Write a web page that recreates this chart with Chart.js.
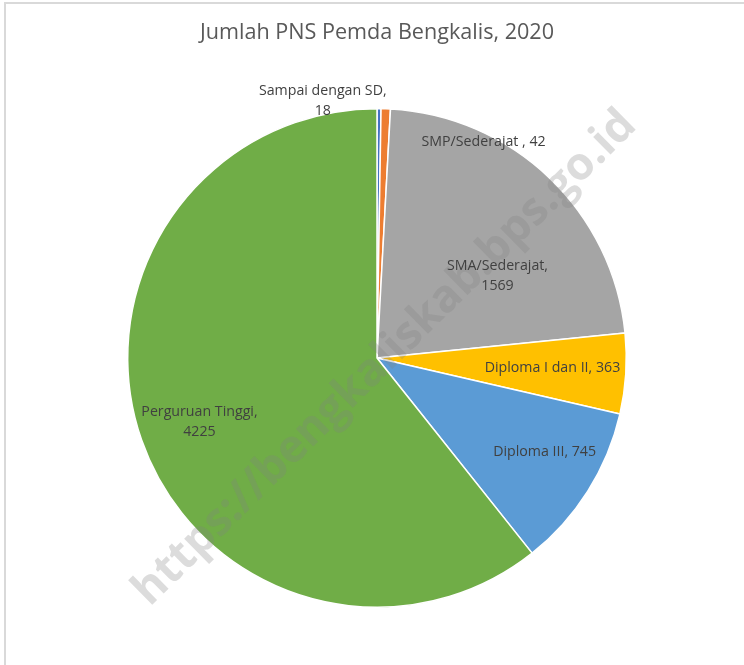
<!DOCTYPE html>
<html><head><meta charset="utf-8">
<script src="https://cdn.jsdelivr.net/npm/chart.js@4/dist/chart.umd.min.js"></script>
<style>html,body{margin:0;padding:0;background:#fff;overflow:hidden}</style>
</head><body>
<canvas id="c" width="744" height="665"></canvas>
<script>
const categories = ["Sampai dengan SD", "SMP/Sederajat ", "SMA/Sederajat", "Diploma I dan II", "Diploma III", "Perguruan Tinggi"];
const values = [18, 42, 1569, 363, 745, 4225];
const twoLineLabel = [true, false, true, false, false, true];
const colors = ["#4472C4", "#ED7D31", "#A5A5A5", "#FFC000", "#5B9BD5", "#70AD47"];
const chartTitle = "Jumlah PNS Pemda Bengkalis, 2020";
const watermark = "https://bengkaliskab.bps.go.id";
// label placement relative to each slice: [angle offset from slice middle (deg), radius fraction]
const labelPlacement = [[-12.4, 1.052], [24.2, 0.968], [12.2, 0.584], [-0.35, 0.705], [-3.1, 0.77], [-0.6, 0.757]];

const FONT = "'Open Sans', Lato, sans-serif";
const LABEL_SIZE = 14.2;
const TITLE_SIZE = 21.6;

const frameAndWatermark = {
  id: 'frameAndWatermark',
  beforeDraw(chart) {
    const ctx = chart.ctx;
    ctx.save();
    ctx.fillStyle = '#fff';
    ctx.fillRect(0, 0, chart.width, chart.height);
    ctx.strokeStyle = '#d9d9d9';
    ctx.lineWidth = 2;
    ctx.strokeRect(5, 3, 900, 900);
    ctx.restore();
  },
  afterDatasetsDraw(chart) {
    const ctx = chart.ctx;
    // watermark
    ctx.save();
    ctx.translate(385, 358);
    ctx.rotate(-44.5 * Math.PI / 180);
    let size = 40;
    ctx.font = "bold " + size + "px 'Open Sans', sans-serif";
    const w = ctx.measureText(watermark).width;
    size = size * 685 / w;
    ctx.font = "bold " + size + "px 'Open Sans', sans-serif";
    ctx.fillStyle = 'rgba(128,128,128,0.28)';
    ctx.textAlign = 'center';
    ctx.textBaseline = 'middle';
    ctx.fillText(watermark, 0, 0);
    ctx.restore();

    const meta = chart.getDatasetMeta(0);
    ctx.save();
    ctx.font = LABEL_SIZE + "px " + FONT;
    ctx.fillStyle = '#404040';
    ctx.textAlign = 'center';
    ctx.textBaseline = 'middle';
    meta.data.forEach((arc, i) => {
      const p = arc.getProps(['x', 'y', 'startAngle', 'endAngle', 'outerRadius'], true);
      const mid = (p.startAngle + p.endAngle) / 2;
      const a = mid + labelPlacement[i][0] * Math.PI / 180;
      const r = labelPlacement[i][1] * p.outerRadius;
      const px = p.x + Math.cos(a) * r;
      const py = p.y + Math.sin(a) * r;
      const lines = twoLineLabel[i]
        ? [categories[i] + ",", String(values[i])]
        : [categories[i] + ", " + values[i]];
      const lh = 20;
      lines.forEach((t, k) => {
        ctx.fillText(t, px, py + (k - (lines.length - 1) / 2) * lh);
      });
    });
    ctx.restore();
  }
};

new Chart(document.getElementById('c'), {
  type: 'pie',
  data: {
    labels: categories,
    datasets: [{
      data: values,
      backgroundColor: colors,
      borderColor: '#ffffff',
      borderWidth: 1.5
    }]
  },
  options: {
    responsive: false,
    animation: false,
    devicePixelRatio: 1,
    layout: { padding: { top: 0, bottom: 57, left: 10, right: 0 } },
    plugins: {
      legend: { display: false },
      tooltip: { enabled: false },
      title: {
        display: true,
        text: chartTitle,
        color: '#595959',
        font: { family: FONT, size: TITLE_SIZE, weight: 'normal', lineHeight: 1.2 },
        padding: { top: 20, bottom: 62 }
      }
    }
  },
  plugins: [frameAndWatermark]
});
</script>
</body></html>
